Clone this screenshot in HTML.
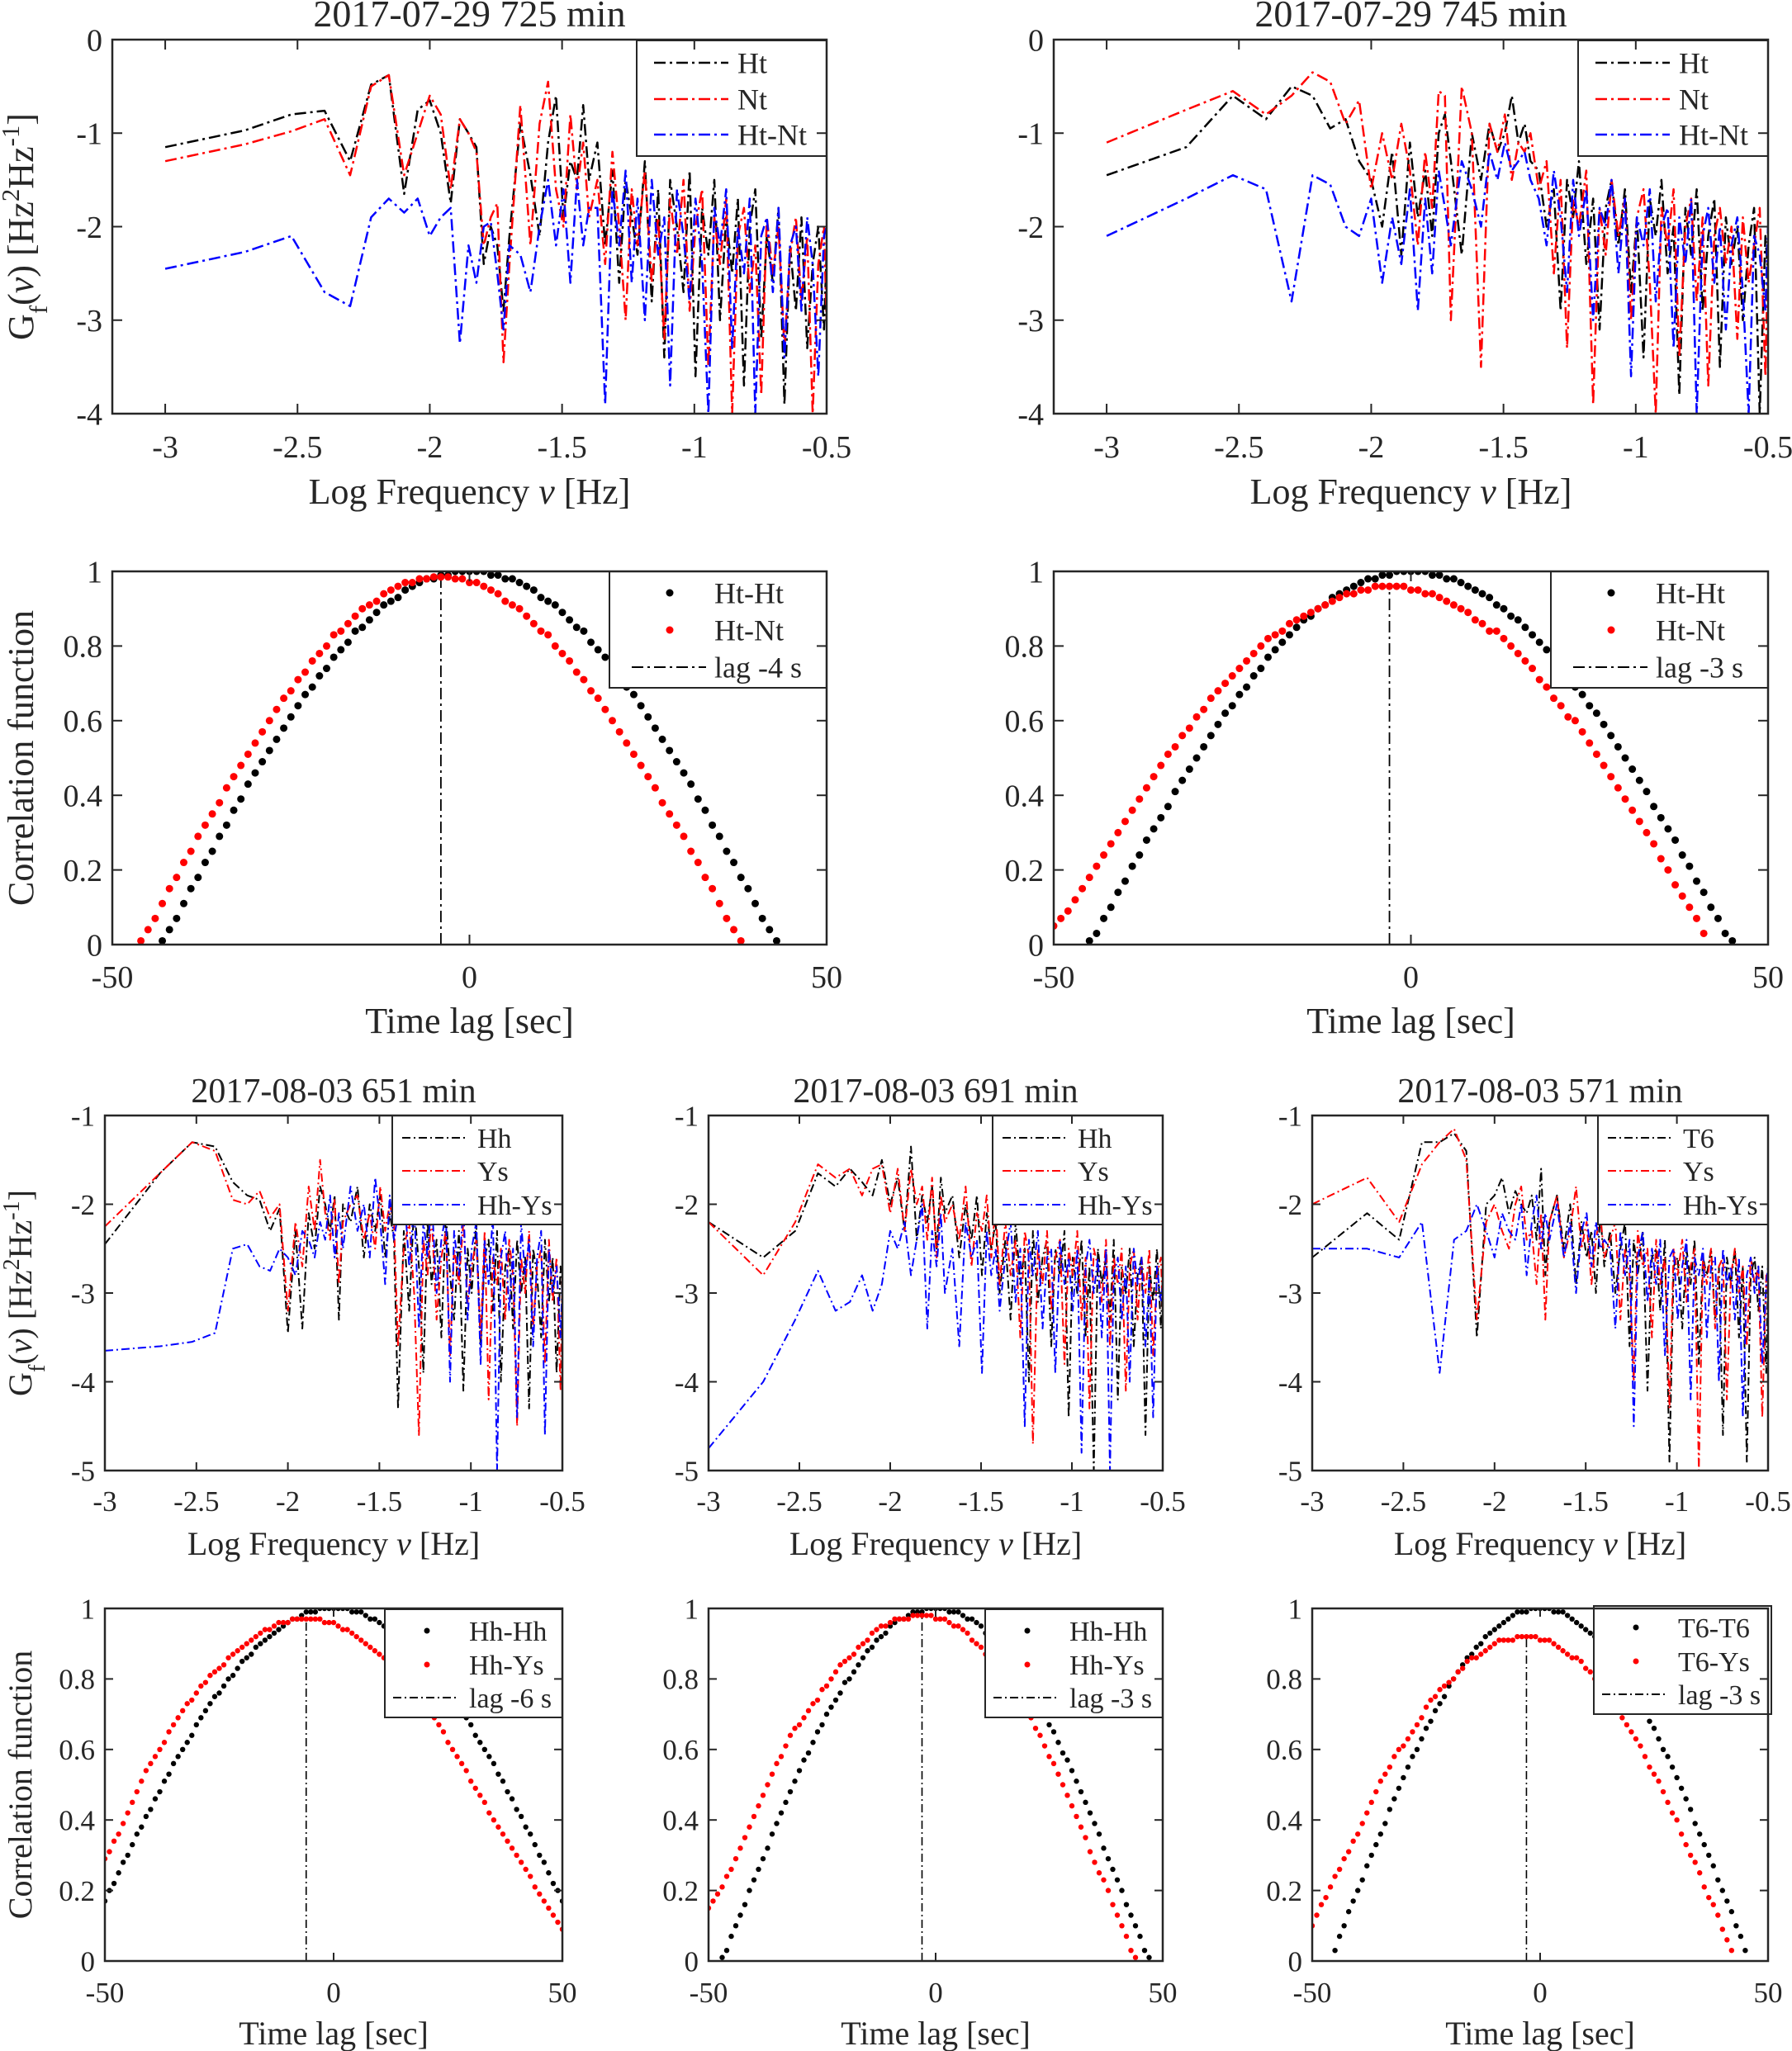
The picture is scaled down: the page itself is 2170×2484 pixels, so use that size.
<!DOCTYPE html>
<html><head><meta charset="utf-8"><style>
html,body{margin:0;padding:0;background:#fff}
svg{display:block}
text{font-family:"Liberation Serif","DejaVu Serif",serif;fill:#262626}
</style></head><body>
<svg id="chart" width="2170" height="2484" viewBox="0 0 2170 2484" xmlns="http://www.w3.org/2000/svg">
<rect x="0" y="0" width="2170" height="2484" fill="#fff"/>
</svg>
<script>
// ---------- DATA ----------
const kArr=[1,2,3,4,5,6,7,8,9,10,11,12,13,14,15,16,17,18,19,20,22,24,26,28,30,32,34,36,38,40,43,46,49,52,55,58,61,65,69,73,77,81,86,91,96,101,107,113,119,125,132,139,146,154,162,170,179,188,198,208,219,230,242,254,267,280,294,309,316];
const freqStep=0.001;
const p1Ht=[-1.15,-0.97,-0.8,-0.76,-1.3,-0.48,-0.38,-1.65,-0.75,-0.65,-1.0,-1.75,-0.85,-1.0,-1.15,-2.4,-2.0,-2.2,-2.9,-2.1,-0.9,-1.45,-2.1,-1.1,-0.6,-1.9,-1.3,-1.5,-0.7,-1.5,
-1.1,-2.2,-1.4,-2.6,-1.5,-1.9,-2.3,-1.3,-2.8,-1.6,-3.4,-1.5,-2.0,-2.7,-1.4,-3.6,-1.8,-2.3,-1.5,-3.0,-1.9,-2.5,-1.7,-3.7,-2.0,-1.6,-3.2,-2.1,-2.6,-1.8,-3.9,-2.2,-2.9,-1.9,-3.3,-2.4,-2.0,-3.1,-2.3];
const p1Nt=[-1.3,-1.12,-0.98,-0.85,-1.45,-0.5,-0.38,-1.45,-1.0,-0.6,-0.8,-1.6,-0.85,-1.0,-1.2,-2.2,-1.9,-1.75,-3.45,-2.4,-0.7,-2.2,-0.9,-0.45,-1.6,-2.0,-0.8,-1.6,-1.1,-1.9,
-1.5,-2.4,-1.2,-2.0,-3.0,-1.6,-2.2,-1.4,-2.6,-1.9,-3.2,-1.7,-2.3,-1.5,-2.9,-2.0,-1.6,-3.5,-1.9,-2.4,-1.7,-4.0,-2.1,-1.8,-2.7,-2.2,-3.8,-1.9,-2.5,-2.0,-3.3,-2.3,-1.9,-2.8,-2.1,-4.0,-2.4,-2.0,-3.0];
const p1Diff=[-2.45,-2.27,-2.1,-2.7,-2.85,-1.9,-1.7,-1.85,-1.7,-2.1,-1.9,-1.8,-3.25,-2.2,-2.6,-2.0,-1.95,-2.5,-3.1,-2.2,-2.3,-2.7,-2.0,-1.5,-2.2,-1.6,-2.6,-1.5,-2.2,-1.8,
-1.8,-3.9,-1.6,-2.2,-1.4,-2.6,-1.7,-3.0,-1.5,-2.3,-1.9,-3.7,-1.6,-2.1,-2.8,-1.7,-2.4,-4.0,-1.8,-2.2,-1.6,-3.3,-2.0,-2.5,-1.7,-4.0,-2.1,-1.9,-2.7,-1.8,-3.4,-2.2,-2.0,-2.9,-1.9,-2.4,-3.6,-2.1,-2.0];
const p2Ht=[-1.45,-1.15,-0.6,-0.85,-0.5,-0.6,-0.95,-0.85,-1.3,-1.5,-2.0,-1.2,-2.3,-1.1,-1.9,-1.4,-2.1,-1.0,-0.8,-1.3,-2.3,-1.0,-1.5,-0.9,-1.2,-1.0,-0.6,-1.1,-0.9,-1.3,
-1.4,-2.0,-1.6,-2.9,-1.5,-1.9,-1.3,-2.4,-1.7,-3.1,-1.8,-1.5,-2.2,-1.6,-2.7,-1.9,-3.4,-1.7,-2.1,-1.5,-2.5,-2.0,-3.8,-1.8,-2.3,-1.6,-2.9,-2.1,-1.7,-3.5,-1.9,-2.4,-2.0,-3.0,-2.2,-1.8,-4.0,-2.1,-2.5];
const p2Nt=[-1.1,-0.75,-0.55,-0.8,-0.6,-0.35,-0.45,-0.9,-0.65,-1.6,-1.0,-1.5,-0.9,-1.4,-2.2,-1.2,-1.8,-0.55,-0.6,-3.0,-0.5,-1.0,-3.5,-0.9,-1.2,-0.8,-1.5,-1.1,-1.2,-1.0,
-1.6,-1.3,-2.5,-1.5,-3.3,-1.7,-2.0,-1.4,-3.9,-1.8,-2.3,-1.5,-2.1,-1.7,-3.0,-1.9,-1.6,-2.6,-4.0,-1.8,-2.2,-1.6,-3.4,-2.0,-1.7,-2.8,-1.9,-3.7,-2.1,-1.8,-2.4,-2.0,-3.2,-1.9,-2.6,-2.2,-1.8,-3.6,-2.3];
const p2Diff=[-2.1,-1.7,-1.45,-1.6,-2.8,-1.45,-1.55,-2.0,-2.1,-1.7,-2.6,-1.9,-2.4,-1.6,-2.9,-1.7,-2.5,-1.4,-1.8,-2.2,-1.3,-1.6,-2.0,-1.2,-1.5,-1.1,-1.4,-1.3,-1.2,-1.5,
-1.7,-2.2,-1.4,-1.9,-2.7,-1.5,-2.1,-1.6,-3.0,-1.8,-2.0,-1.5,-2.5,-1.7,-3.6,-1.9,-2.2,-1.6,-2.8,-2.0,-1.8,-3.3,-1.9,-2.4,-1.7,-4.0,-2.1,-1.8,-2.6,-2.0,-3.1,-2.2,-1.9,-2.7,-4.0,-2.1,-2.3,-2.9,-2.0];
const p3Hh=[-2.45,-1.65,-1.3,-1.35,-1.75,-1.9,-1.95,-2.3,-2.05,-3.45,-2.3,-3.4,-2.1,-2.5,-1.8,-2.0,-2.3,-1.9,-3.3,-2.0,-2.2,-1.8,-2.6,-2.0,-2.3,-1.9,-2.6,-2.1,-2.4,-4.3,
-2.3,-3.2,-2.0,-2.7,-3.9,-2.2,-2.9,-2.4,-3.5,-2.1,-2.8,-3.3,-2.3,-4.1,-2.5,-3.0,-2.2,-3.6,-2.6,-2.4,-3.2,-2.3,-4.0,-2.7,-2.5,-3.4,-2.4,-3.0,-2.6,-4.3,-2.5,-2.8,-3.5,-2.4,-3.1,-2.6,-3.9,-2.7,-3.0];
const p3Ys=[-2.25,-1.65,-1.3,-1.4,-1.95,-2.0,-1.85,-2.15,-2.0,-3.2,-2.2,-2.7,-1.8,-2.3,-1.5,-2.1,-2.4,-1.95,-2.9,-2.2,-2.0,-1.9,-2.4,-2.1,-2.5,-1.8,-2.3,-2.0,-2.2,-3.6,
-2.5,-2.2,-3.0,-4.6,-2.4,-2.8,-2.1,-3.3,-2.6,-2.3,-3.7,-2.5,-2.9,-2.2,-3.1,-2.7,-2.4,-3.5,-2.3,-4.2,-2.6,-2.9,-2.5,-3.3,-2.4,-2.8,-4.5,-2.6,-3.0,-2.3,-3.4,-2.7,-2.5,-3.8,-2.4,-3.1,-2.6,-4.1,-2.8];
const p3Diff=[-3.65,-3.6,-3.55,-3.45,-2.5,-2.45,-2.7,-2.75,-2.5,-2.6,-2.8,-2.3,-2.4,-2.6,-2.2,-2.4,-1.9,-2.6,-2.1,-2.5,-1.8,-2.3,-2.0,-2.6,-1.7,-2.2,-2.9,-1.9,-2.4,-2.1,
-1.8,-2.7,-2.0,-3.4,-2.2,-2.6,-1.9,-3.0,-2.4,-2.1,-4.0,-2.3,-2.8,-2.0,-3.3,-2.5,-2.2,-3.8,-2.4,-2.9,-2.1,-5.0,-2.6,-2.3,-3.2,-2.5,-4.4,-2.2,-2.8,-2.4,-3.6,-2.6,-2.3,-4.6,-2.5,-3.0,-2.7,-3.5,-2.9];
const p4Hh=[-2.2,-2.6,-2.3,-1.65,-1.8,-1.6,-1.75,-1.9,-1.5,-2.0,-1.7,-2.3,-1.35,-2.4,-1.9,-2.2,-1.8,-2.5,-1.7,-2.1,-1.9,-2.6,-2.0,-2.4,-1.9,-2.8,-2.1,-2.5,-2.2,-3.0,
-2.4,-3.3,-2.2,-2.9,-2.5,-4.0,-2.3,-3.1,-2.6,-2.4,-3.6,-2.5,-2.8,-2.3,-4.4,-2.6,-3.0,-2.4,-3.5,-2.7,-5.0,-2.5,-2.9,-2.6,-3.3,-2.4,-4.2,-2.7,-3.0,-2.5,-3.6,-2.8,-2.6,-4.6,-2.7,-3.1,-2.5,-3.4,-2.8];
const p4Ys=[-2.2,-2.8,-2.2,-1.55,-1.7,-1.6,-1.9,-1.6,-1.55,-2.1,-1.6,-2.3,-1.6,-2.0,-1.8,-2.4,-1.7,-2.6,-1.9,-2.2,-2.0,-2.4,-1.8,-2.7,-2.1,-2.3,-1.9,-2.6,-2.0,-2.9,
-2.2,-2.8,-2.4,-3.5,-2.3,-2.6,-4.7,-2.5,-2.9,-2.3,-3.2,-2.6,-2.4,-3.8,-2.5,-2.8,-2.3,-3.3,-2.6,-4.3,-2.5,-2.7,-3.1,-2.4,-3.6,-2.6,-2.9,-2.5,-4.1,-2.7,-2.5,-3.3,-2.6,-3.0,-2.5,-3.7,-2.8,-2.6,-3.2];
const p4Diff=[-4.75,-4.0,-3.3,-2.75,-3.2,-3.1,-2.8,-3.2,-2.9,-2.3,-2.5,-2.2,-2.8,-2.4,-2.0,-3.4,-2.3,-2.7,-2.1,-3.0,-2.5,-3.6,-2.2,-2.6,-2.4,-3.9,-2.3,-2.8,-2.5,-3.2,
-2.6,-2.2,-3.1,-2.5,-4.5,-2.4,-2.8,-2.3,-3.4,-2.6,-2.5,-3.9,-2.4,-2.9,-2.6,-3.2,-2.5,-4.8,-2.7,-2.4,-3.0,-2.6,-3.5,-2.5,-5.0,-2.8,-2.6,-3.3,-2.7,-4.0,-2.5,-2.9,-2.6,-3.6,-2.8,-4.4,-2.7,-3.1,-2.9];
const p5T6=[-2.6,-2.1,-2.4,-1.3,-1.3,-1.2,-1.4,-3.5,-2.0,-1.9,-1.7,-2.1,-1.85,-2.0,-2.1,-1.9,-2.4,-1.6,-2.8,-2.2,-1.9,-2.5,-2.0,-2.9,-2.2,-2.6,-2.3,-3.0,-2.1,-2.7,
-2.3,-3.0,-2.5,-2.2,-3.6,-2.4,-2.8,-2.3,-4.1,-2.6,-2.5,-3.2,-2.4,-4.9,-2.7,-2.6,-3.4,-2.5,-2.9,-2.4,-3.8,-2.6,-2.8,-2.5,-3.3,-2.7,-4.6,-2.6,-2.9,-2.5,-3.5,-2.7,-4.9,-2.8,-2.6,-3.2,-2.7,-3.9,-2.8];
const p5Ys=[-2.0,-1.7,-2.2,-1.55,-1.3,-1.15,-1.5,-3.3,-2.2,-2.0,-2.3,-2.5,-2.0,-1.8,-2.4,-2.3,-2.9,-2.1,-3.3,-2.2,-1.9,-2.6,-2.3,-1.8,-2.5,-2.2,-2.9,-2.4,-2.1,-2.6,
-2.4,-2.2,-3.3,-2.5,-2.8,-4.0,-2.3,-2.7,-2.5,-3.5,-2.4,-2.9,-2.6,-4.3,-2.5,-2.8,-2.4,-3.1,-2.7,-2.5,-5.0,-2.6,-2.9,-2.5,-3.4,-2.7,-2.6,-4.2,-2.8,-2.5,-3.0,-2.7,-3.6,-2.6,-2.9,-2.7,-4.4,-2.8,-3.0];
const p5Diff=[-2.5,-2.5,-2.6,-2.2,-3.9,-2.4,-2.3,-2.0,-2.3,-2.6,-2.1,-2.3,-2.4,-2.0,-2.8,-2.2,-1.9,-2.5,-2.1,-2.4,-2.0,-2.6,-2.2,-3.0,-2.3,-2.1,-2.7,-2.2,-2.5,-2.4,
-2.5,-3.4,-2.3,-2.8,-2.4,-4.5,-2.6,-2.3,-3.1,-2.5,-2.9,-2.4,-3.7,-2.6,-2.5,-3.3,-2.7,-2.4,-4.2,-2.6,-2.8,-2.5,-3.5,-2.7,-2.6,-4.0,-2.5,-2.9,-2.7,-3.3,-2.6,-4.4,-2.8,-2.6,-3.0,-2.7,-3.8,-2.9,-2.7];

// correlation: values moving away from the peak, one per second
const c1BlackPeakLag=0, c1BlackPeak=1.0;
const c1BlackSide=[1.00,1.00,.99,.99,.98,.98,.97,.96,.95,.93,.92,.91,.89,.87,.85,.84,.81,.79,.77,.74,.72,.69,.67,.64,.61,.58,.55,.52,.49,.46,.43,.39,.36,.32,.29,.25,.22,.18,.15,.11,.07,.04,.01];
const c1RedPeakLag=-4, c1RedPeak=0.985;
const c1RedSide=[.985,.98,.98,.97,.97,.96,.95,.94,.92,.91,.90,.88,.86,.84,.83,.80,.78,.76,.73,.71,.68,.66,.63,.60,.57,.54,.51,.48,.45,.42,.38,.35,.32,.29,.25,.22,.18,.15,.11,.07,.04,.01];
const c2BlackPeakLag=0, c2BlackPeak=1.0;
const c2BlackSide=[1.00,1.00,.99,.99,.98,.98,.97,.96,.95,.94,.93,.91,.90,.88,.87,.85,.83,.81,.79,.77,.74,.72,.69,.67,.64,.62,.59,.56,.53,.50,.47,.44,.41,.37,.34,.31,.28,.24,.21,.17,.14,.10,.07,.03,.01];
const c2RedPeakLag=-3, c2RedPeak=0.96;
const c2RedLeft=[.96,.96,.95,.95,.94,.94,.93,.92,.91,.90,.89,.88,.87,.86,.84,.83,.82,.80,.78,.76,.74,.72,.70,.68,.66,.63,.61,.58,.56,.53,.51,.48,.45,.42,.39,.36,.33,.30,.27,.24,.21,.18,.15,.12,.09,.07,.05];
const c2RedRight=[.96,.96,.95,.95,.94,.94,.93,.92,.91,.90,.89,.87,.86,.84,.84,.82,.80,.78,.76,.74,.71,.69,.66,.64,.61,.60,.57,.54,.51,.48,.45,.42,.39,.36,.33,.30,.27,.23,.20,.16,.13,.10,.07,.03];
const c3BlackPeakLag=0, c3BlackPeak=1.0;
const c3BlackSide=[1.00,1.00,1.00,.99,.99,.99,.98,.97,.97,.96,.95,.94,.93,.92,.91,.90,.89,.87,.86,.85,.83,.81,.80,.78,.76,.75,.73,.71,.69,.67,.64,.62,.60,.58,.56,.53,.51,.48,.46,.43,.41,.38,.36,.33,.30,.28,.25,.22,.20,.17];
const c3RedPeakLag=-6, c3RedPeak=0.97;
const c3RedLeft=[.97,.97,.97,.96,.96,.96,.95,.94,.94,.93,.92,.91,.90,.89,.88,.87,.86,.84,.83,.82,.81,.79,.78,.76,.74,.73,.71,.69,.67,.65,.62,.60,.58,.56,.54,.51,.48,.45,.42,.39,.36,.34,.31,.29];
const c3RedRight=[.97,.97,.97,.96,.96,.96,.95,.94,.94,.93,.92,.91,.90,.89,.88,.87,.86,.84,.83,.82,.81,.79,.78,.76,.74,.73,.71,.69,.67,.65,.62,.60,.58,.56,.54,.51,.49,.47,.45,.42,.40,.38,.36,.34,.32,.30,.28,.26,.24,.21,.19,.17,.15,.13,.11,.09];
const c4BlackPeakLag=0, c4BlackPeak=1.0;
const c4BlackSide=[1.00,1.00,.99,.99,.99,.98,.97,.97,.96,.95,.93,.92,.91,.89,.88,.86,.84,.82,.80,.79,.76,.74,.72,.70,.67,.65,.62,.59,.57,.54,.51,.48,.45,.42,.39,.36,.32,.29,.26,.23,.20,.16,.13,.10,.07,.03,.01];
const c4RedPeakLag=-3, c4RedPeak=0.98;
const c4RedLeft=[.98,.98,.97,.97,.97,.97,.96,.95,.95,.94,.93,.91,.90,.89,.87,.86,.85,.84,.82,.80,.78,.77,.74,.73,.71,.69,.67,.66,.64,.61,.58,.56,.53,.50,.47,.44,.41,.38,.35,.32,.29,.26,.24,.21,.19,.17,.15];
const c4RedRight=[.98,.98,.97,.97,.97,.96,.95,.95,.94,.93,.91,.90,.89,.87,.86,.84,.82,.80,.78,.77,.74,.73,.71,.69,.66,.64,.61,.58,.56,.53,.50,.47,.44,.41,.38,.35,.31,.28,.25,.23,.20,.16,.13,.10,.07,.03,.01];
const c5BlackPeakLag=0, c5BlackPeak=1.0;
const c5BlackSide=[1.00,1.00,.99,.99,.99,.98,.97,.96,.95,.94,.93,.92,.90,.89,.87,.86,.84,.82,.80,.78,.75,.73,.71,.68,.66,.63,.60,.58,.55,.52,.49,.46,.43,.39,.36,.33,.30,.27,.23,.20,.17,.14,.10,.07,.03];
const c5RedPeakLag=-3, c5RedPeak=0.92;
const c5RedLeft=[.92,.92,.91,.91,.91,.91,.90,.89,.88,.87,.86,.86,.85,.83,.82,.80,.79,.78,.77,.75,.74,.72,.69,.67,.65,.63,.61,.60,.58,.55,.53,.51,.48,.45,.42,.39,.36,.34,.31,.29,.26,.24,.21,.18,.16,.13,.10];
const c5RedRight=[.92,.92,.91,.91,.91,.90,.89,.88,.87,.86,.86,.85,.83,.82,.80,.79,.77,.75,.74,.72,.69,.67,.65,.63,.61,.58,.55,.53,.51,.48,.45,.42,.40,.36,.33,.30,.28,.25,.21,.18,.16,.13,.09,.06,.03];

const specXTicks=[-3,-2.5,-2,-1.5,-1,-0.5];
const specXTickLabels=["-3","-2.5","-2","-1.5","-1","-0.5"];
const topSpecYTicks=[0,-1,-2,-3,-4];
const botSpecYTicks=[-1,-2,-3,-4,-5];
const corrXTicks=[-50,0,50];
const corrYTicks=[0,0.2,0.4,0.6,0.8,1];
const corrYTickLabels=["0","0.2","0.4","0.6","0.8","1"];

// ---------- DRAW ----------
const NS="http://www.w3.org/2000/svg";
const svg=document.getElementById('chart');
const INK="#262626";
function mk(tag,attrs,parent){const e=document.createElementNS(NS,tag);for(const k in attrs)e.setAttribute(k,attrs[k]);(parent||svg).appendChild(e);return e;}
let clipId=0;

function axes(o){
  const g=mk('g',{});
  
  
  const sx=v=>o.x0+(v-o.xmin)/(o.xmax-o.xmin)*(o.x1-o.x0);
  const sy=v=>o.y1-(v-o.ymin)/(o.ymax-o.ymin)*(o.y1-o.y0);
  const id='clip'+(clipId++);
  const cp=mk('clipPath',{id:id},g);
  mk('rect',{x:o.x0,y:o.y0,width:o.x1-o.x0,height:o.y1-o.y0},cp);
  const plot=mk('g',{'clip-path':'url(#'+id+')'},g);
  
  
  return {g,plot,sx,sy,o};
}
function frame(A){
  const o=A.o,g=A.g,tl=o.tick||10;
  o.xticks.forEach((v,i)=>{
    const x=A.sx(v);
    const t1=mk('line',{x1:x,x2:x,y1:o.y1,y2:o.y1-tl,stroke:INK,'stroke-width':2},g);
    
    
    const t2=mk('line',{x1:x,x2:x,y1:o.y0,y2:o.y0+tl,stroke:INK,'stroke-width':2},g);
    
    
    const tx=mk('text',{x:x,y:o.xtickY,'text-anchor':'middle','font-size':o.tf},g);
    
    
    tx.textContent=o.xlabels[i];
  });
  o.yticks.forEach((v,i)=>{
    const y=A.sy(v);
    const t1=mk('line',{x1:o.x0,x2:o.x0+tl,y1:y,y2:y,stroke:INK,'stroke-width':2},g);
    
    
    const t2=mk('line',{x1:o.x1,x2:o.x1-tl,y1:y,y2:y,stroke:INK,'stroke-width':2},g);
    
    
    const tx=mk('text',{x:o.x0-12,y:y,dy:'0.35em','text-anchor':'end','font-size':o.tf},g);
    
    
    tx.textContent=o.ylabels[i];
  });
  const box=mk('rect',{x:o.x0,y:o.y0,width:o.x1-o.x0,height:o.y1-o.y0,fill:'none',stroke:INK,'stroke-width':2.5},g);
  
  
  if(o.title){
    const t=mk('text',{x:(o.x0+o.x1)/2,y:o.titleY,'text-anchor':'middle','font-size':o.titleF,fill:'#000'},g);
    
    
    t.textContent=o.title;
  }
  const xl=mk('text',{x:(o.x0+o.x1)/2,y:o.xlabelY,'text-anchor':'middle','font-size':o.lf},g);
  
  
  if(o.spec){
    xl.appendChild(document.createTextNode('Log Frequency  '));
    const nu=mk('tspan',{'font-style':'italic'},xl);nu.textContent='ν';
    xl.appendChild(document.createTextNode(' [Hz]'));
  } else xl.textContent='Time lag [sec]';
  if(o.ylabel){
    const cy=(o.y0+o.y1)/2;
    const yl=mk('text',{x:0,y:0,transform:'translate('+o.ylabelX+','+cy+') rotate(-90)','text-anchor':'middle','font-size':o.lf},g);
    
    
    if(o.spec){
      yl.appendChild(document.createTextNode('G'));
      const s=mk('tspan',{'baseline-shift':'sub','font-size':o.lf*0.7},yl);s.textContent='f';
      const r=mk('tspan',{},yl);r.textContent='(';
      const nu=mk('tspan',{'font-style':'italic'},yl);nu.textContent='ν';
      const r2=mk('tspan',{},yl);r2.textContent=') [Hz';
      const s2=mk('tspan',{'baseline-shift':'super','font-size':o.lf*0.7},yl);s2.textContent='2';
      const r3=mk('tspan',{},yl);r3.textContent='Hz';
      const s3=mk('tspan',{'baseline-shift':'super','font-size':o.lf*0.7},yl);s3.textContent='-1';
      const r4=mk('tspan',{},yl);r4.textContent=']';
    } else yl.textContent='Correlation function';
  }
}
function specLine(A,vals,color,name,dash,w){
  let d='';
  vals.forEach((v,i)=>{const x=A.sx(Math.log10(kArr[i]*freqStep)),y=A.sy(v);d+=(i?'L':'M')+x.toFixed(1)+' '+y.toFixed(1);});
  const p=mk('path',{d:d,fill:'none',stroke:color,'stroke-width':w,'stroke-dasharray':dash,'stroke-linejoin':'round'},A.plot);
  
  
}
function corrDots(A,peakLag,peak,left,right,color,name,r){
  const g=mk('g',{fill:color},A.plot);
  
  
  const pts=[[peakLag,peak]];
  left.forEach((v,i)=>pts.push([peakLag-(i+1),v]));
  right.forEach((v,i)=>pts.push([peakLag+(i+1),v]));
  pts.forEach(p=>{
    if(p[0]<-50||p[0]>50||p[1]<0)return;
    const c=mk('circle',{cx:A.sx(p[0]),cy:A.sy(p[1]),r:r},g);
    
    
  });
}
function lagLine(A,lag,top,dash,w){
  const l=mk('line',{x1:A.sx(lag),x2:A.sx(lag),y1:A.sy(0),y2:A.sy(top),stroke:'#000','stroke-width':w,'stroke-dasharray':dash},A.plot);
  
  
}
function legend(A,L){
  const g=mk('g',{},A.g);
  
  
  const b=mk('rect',{x:L.x,y:L.y,width:L.w,height:L.h,fill:'#fff',stroke:INK,'stroke-width':2},g);
  
  
  L.items.forEach((it,i)=>{
    const y=L.y+L.rows[i];
    if(it.type==='line'){
      const l=mk('line',{x1:L.x+L.l0,x2:L.x+L.l1,y1:y,y2:y,stroke:it.color,'stroke-width':L.lw,'stroke-dasharray':L.dash},g);
      
      
    } else {
      const c=mk('circle',{cx:L.x+L.mx,cy:y,r:L.r,fill:it.color},g);
      
      
    }
    const t=mk('text',{x:L.x+L.tx,y:y,dy:'0.35em','font-size':L.f,fill:'#000'},g);
    
    
    t.textContent=it.label;
  });
}

// ---- Row 1: top spectra ----
const topDash='14 5 3 5', botDash='10 4 2 4';
function topSpec(x0,title,ylab,ser,labels){
  const A=axes({name:'spectrum-'+title.replace(/ /g,'-'),x0:x0,x1:x0+865,y0:48,y1:501,xmin:-3.2,xmax:-0.5,ymin:-4,ymax:0,
    xticks:specXTicks,xlabels:specXTickLabels,yticks:topSpecYTicks,ylabels:topSpecYTicks.map(String),tf:38,lf:44,
    xtickY:554,xlabelY:610,title:title,titleY:32,titleF:46,ylabel:ylab,ylabelX:40,spec:true,tick:12});
  specLine(A,ser[0],'#000','series-'+labels[0],topDash,2.5);
  specLine(A,ser[1],'#f00','series-'+labels[1],topDash,2.5);
  specLine(A,ser[2],'#00f','series-'+labels[2],topDash,2.5);
  legend(A,{x:x0+635,y:49,w:230,h:140,rows:[27,71,114],l0:21,l1:111,tx:122,f:36,lw:2.5,dash:topDash,
    items:[{type:'line',color:'#000',label:labels[0]},{type:'line',color:'#f00',label:labels[1]},{type:'line',color:'#00f',label:labels[2]}]});
  frame(A);
}
topSpec(136,'2017-07-29 725 min',true,[p1Ht,p1Nt,p1Diff],['Ht','Nt','Ht-Nt']);
topSpec(1276,'2017-07-29 745 min',false,[p2Ht,p2Nt,p2Diff],['Ht','Nt','Ht-Nt']);

// ---- Row 2: top correlation ----
function topCorr(x0,ylab,bl,rd,lag,labels){
  const A=axes({name:'correlation-'+labels[2].replace(/ /g,''),x0:x0,x1:x0+865,y0:692,y1:1144,xmin:-50,xmax:50,ymin:0,ymax:1,
    xticks:corrXTicks,xlabels:corrXTicks.map(String),yticks:corrYTicks,ylabels:corrYTickLabels,tf:38,lf:44,
    xtickY:1196,xlabelY:1251,ylabel:ylab,ylabelX:40,spec:false,tick:12});
  lagLine(A,lag,rd[1],'14 5 3 5',1.8);
  corrDots(A,bl[0],bl[1],bl[2],bl[3],'#000','series-black-'+labels[0],4.5);
  corrDots(A,rd[0],rd[1],rd[2],rd[3],'#f00','series-red-'+labels[1],4.5);
  legend(A,{x:x0+602,y:692,w:263,h:141,rows:[26,71,116],mx:73,r:4.5,l0:27,l1:117,tx:127,f:36,lw:2,dash:'14 5 3 5',
    items:[{type:'dot',color:'#000',label:labels[0]},{type:'dot',color:'#f00',label:labels[1]},{type:'line',color:'#000',label:labels[2]}]});
  frame(A);
}
topCorr(136,true,[c1BlackPeakLag,c1BlackPeak,c1BlackSide,c1BlackSide],[c1RedPeakLag,c1RedPeak,c1RedSide,c1RedSide],c1RedPeakLag,['Ht-Ht','Ht-Nt','lag -4 s']);
topCorr(1276,false,[c2BlackPeakLag,c2BlackPeak,c2BlackSide,c2BlackSide],[c2RedPeakLag,c2RedPeak,c2RedLeft,c2RedRight],c2RedPeakLag,['Ht-Ht','Ht-Nt','lag -3 s']);

// ---- Row 3: bottom spectra ----
const cols=[[127,681],[858,1408],[1589,2141]];
function botSpec(ci,title,ser,labels){
  const c=cols[ci];
  const A=axes({name:'spectrum-'+title.replace(/ /g,'-'),x0:c[0],x1:c[1],y0:1351,y1:1781,xmin:-3,xmax:-0.5,ymin:-5,ymax:-1,
    xticks:specXTicks,xlabels:specXTickLabels,yticks:botSpecYTicks,ylabels:botSpecYTicks.map(String),tf:35,lf:40,
    xtickY:1830,xlabelY:1883,title:title,titleY:1335,titleF:42,ylabel:ci===0,ylabelX:38,spec:true,tick:10});
  specLine(A,ser[0],'#000','series-'+labels[0],botDash,2);
  specLine(A,ser[1],'#f00','series-'+labels[1],botDash,2);
  specLine(A,ser[2],'#00f','series-'+labels[2],botDash,2);
  legend(A,{x:c[1]-206,y:1351,w:206,h:132,rows:[27,67,108],l0:12,l1:92,tx:103,f:34,lw:2,dash:botDash,
    items:[{type:'line',color:'#000',label:labels[0]},{type:'line',color:'#f00',label:labels[1]},{type:'line',color:'#00f',label:labels[2]}]});
  frame(A);
}
botSpec(0,'2017-08-03 651 min',[p3Hh,p3Ys,p3Diff],['Hh','Ys','Hh-Ys']);
botSpec(1,'2017-08-03 691 min',[p4Hh,p4Ys,p4Diff],['Hh','Ys','Hh-Ys']);
botSpec(2,'2017-08-03 571 min',[p5T6,p5Ys,p5Diff],['T6','Ys','Hh-Ys']);

// ---- Row 4: bottom correlation ----
function botCorr(ci,bl,rd,lag,labels,lx,ly){
  const c=cols[ci];
  const A=axes({name:'correlation-'+labels[0],x0:c[0],x1:c[1],y0:1948,y1:2375,xmin:-50,xmax:50,ymin:0,ymax:1,
    xticks:corrXTicks,xlabels:corrXTicks.map(String),yticks:corrYTicks,ylabels:corrYTickLabels,tf:35,lf:40,
    xtickY:2425,xlabelY:2476,ylabel:ci===0,ylabelX:38,spec:false,tick:10});
  lagLine(A,lag,rd[1],'10 4 2 4',1.6);
  corrDots(A,bl[0],bl[1],bl[2],bl[3],'#000','series-black-'+labels[0],3.2);
  corrDots(A,rd[0],rd[1],rd[2],rd[3],'#f00','series-red-'+labels[1],3.2);
  legend(A,{x:lx,y:ly,w:215,h:131,rows:[26,67,107],mx:51,r:3.5,l0:10,l1:90,tx:102,f:34,lw:2,dash:'10 4 2 4',
    items:[{type:'dot',color:'#000',label:labels[0]},{type:'dot',color:'#f00',label:labels[1]},{type:'line',color:'#000',label:labels[2]}]});
  frame(A);
}
botCorr(0,[c3BlackPeakLag,c3BlackPeak,c3BlackSide,c3BlackSide],[c3RedPeakLag,c3RedPeak,c3RedLeft,c3RedRight],c3RedPeakLag,['Hh-Hh','Hh-Ys','lag -6 s'],466,1949);
botCorr(1,[c4BlackPeakLag,c4BlackPeak,c4BlackSide,c4BlackSide],[c4RedPeakLag,c4RedPeak,c4RedLeft,c4RedRight],c4RedPeakLag,['Hh-Hh','Hh-Ys','lag -3 s'],1193,1949);
botCorr(2,[c5BlackPeakLag,c5BlackPeak,c5BlackSide,c5BlackSide],[c5RedPeakLag,c5RedPeak,c5RedLeft,c5RedRight],c5RedPeakLag,['T6-T6','T6-Ys','lag -3 s'],1930,1945);
</script>
</body></html>
